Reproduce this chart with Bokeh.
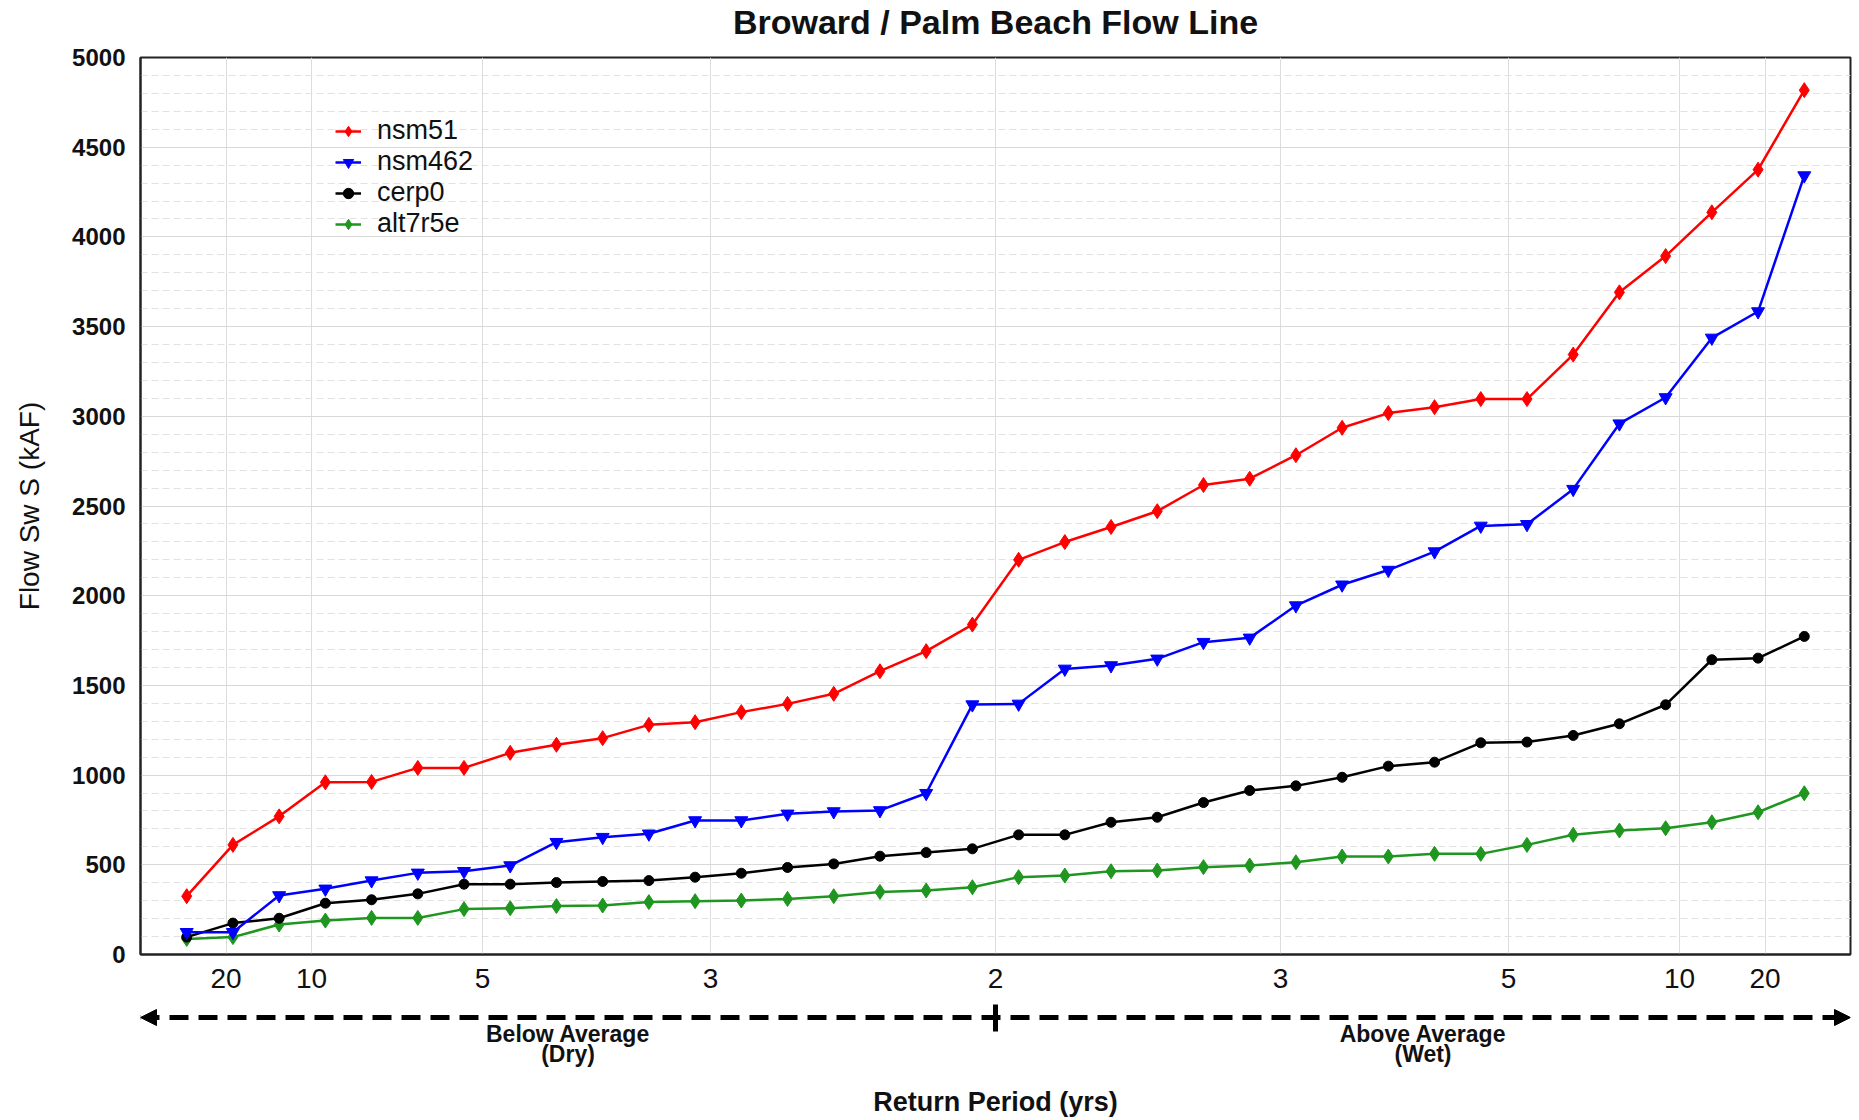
from bokeh.plotting import figure
from bokeh.layouts import column
from bokeh.models import (FixedTicker, SingleIntervalTicker, Arrow, NormalHead, Label,
                          Legend, LegendItem, CustomJSTickFormatter, Range1d)
from bokeh.embed import file_html
from bokeh.resources import INLINE

# ---------------- data ----------------
N_YEARS = 36
rank = list(range(1, N_YEARS + 1))

nsm51 = [325, 611, 770, 960, 962, 1040, 1040, 1124, 1169, 1206, 1280, 1295, 1351, 1397, 1453,
         1579, 1691, 1839, 2200, 2299, 2383, 2471, 2617, 2652, 2783, 2936, 3018, 3051, 3096,
         3096, 3344, 3691, 3893, 4137, 4375, 4818]
nsm462 = [124, 124, 329, 366, 412, 455, 464, 496, 626, 654, 673, 747, 747, 784, 797, 803, 899,
          1393, 1397, 1592, 1611, 1648, 1741, 1765, 1945, 2061, 2143, 2246, 2389, 2398, 2594,
          2959, 3105, 3437, 3584, 4342]
cerp0 = [97, 175, 202, 286, 305, 338, 392, 392, 401, 407, 412, 431, 453, 485, 505, 548, 568,
         589, 667, 667, 737, 765, 847, 914, 940, 988, 1050, 1072, 1180, 1184, 1221, 1286, 1392,
         1643, 1652, 1773]
alt7r5e = [87, 97, 167, 189, 204, 204, 253, 258, 270, 273, 292, 297, 301, 310, 325, 349, 357,
           375, 431, 440, 464, 468, 487, 496, 514, 546, 546, 561, 561, 611, 667, 691, 704, 737,
           793, 899]

dry_periods = [20, 10, 5, 3, 2]      # return periods, below average side
wet_periods = [3, 5, 10, 20]         # return periods, above average side

series_names = ["nsm51", "nsm462", "cerp0", "alt7r5e"]

# Weibull plotting position: rank i -> P = i/(n+1)
n1 = N_YEARS + 1
tick_pos = [n1 / T for T in dry_periods] + [n1 * (1 - 1 / T) for T in wet_periods]
tick_lab = [str(T) for T in dry_periods] + [str(T) for T in wet_periods]

FONT = "Liberation Sans"
TXT = "#111111"
W = 1859
PAGE_H = 1120
xr = Range1d(0, n1)

# ---------------- title strip ----------------
HT = 40
ph = figure(width=W, height=HT, x_range=xr, y_range=Range1d(0, HT),
            output_backend="svg", toolbar_location=None, x_axis_type=None, y_axis_type=None,
            min_border_left=140, min_border_right=9, min_border_top=0, min_border_bottom=0,
            outline_line_color=None, background_fill_color="white", border_fill_color="white")
ph.grid.visible = False
ph.add_layout(Label(x=n1 / 2, y=HT - 21, text="Broward / Palm Beach Flow Line",
                    text_align="center", text_baseline="middle", text_font=FONT,
                    text_font_size="34px", text_font_style="bold", text_color=TXT))

# ---------------- main plot ----------------
HM = 962
p = figure(width=W, height=HM, x_range=xr, y_range=(0, 5000),
           output_backend="svg", toolbar_location=None,
           min_border_left=140, min_border_right=9, min_border_top=17, min_border_bottom=48,
           background_fill_color="white", border_fill_color="white")

p.outline_line_color = "#222222"
p.outline_line_width = 2

# x axis
p.xaxis.ticker = FixedTicker(ticks=tick_pos, minor_ticks=[])
p.xaxis.formatter = CustomJSTickFormatter(args=dict(pos=tick_pos, labels=tick_lab), code="""
for (let i = 0; i < pos.length; i++) { if (Math.abs(tick - pos[i]) < 1e-6) return labels[i]; }
return '';
""")
p.xaxis.major_tick_out = 0
p.xaxis.major_tick_in = 0
p.xaxis.minor_tick_out = 0
p.xaxis.axis_line_color = "#222222"
p.xaxis.axis_line_width = 2
p.xaxis.major_label_text_font = FONT
p.xaxis.major_label_text_font_size = "28px"
p.xaxis.major_label_text_color = TXT
p.xaxis.major_label_standoff = 14

# y axis
p.yaxis.ticker = SingleIntervalTicker(interval=500, num_minor_ticks=5)
p.yaxis.major_tick_out = 0
p.yaxis.major_tick_in = 0
p.yaxis.minor_tick_out = 0
p.yaxis.minor_tick_in = 0
p.yaxis.axis_line_color = "#222222"
p.yaxis.axis_line_width = 2
p.yaxis.major_label_text_font = FONT
p.yaxis.major_label_text_font_size = "24px"
p.yaxis.major_label_text_font_style = "bold"
p.yaxis.major_label_text_color = TXT
p.yaxis.major_label_standoff = 15
p.yaxis.axis_label = "Flow Sw S (kAF)"
p.yaxis.axis_label_text_font = FONT
p.yaxis.axis_label_text_font_size = "28px"
p.yaxis.axis_label_text_font_style = "normal"
p.yaxis.axis_label_text_color = TXT
p.yaxis.axis_label_standoff = 24

# grids
p.xgrid.grid_line_color = "#dcdcdc"
p.xgrid.grid_line_width = 1
p.ygrid.grid_line_color = "#d8d8d8"
p.ygrid.grid_line_width = 1
p.ygrid.minor_grid_line_color = "#e2e2e2"
p.ygrid.minor_grid_line_dash = "7 4"
p.ygrid.minor_grid_line_width = 1

styles = {
    "nsm51": dict(color="#ff0000", marker="diamond", size=15),
    "nsm462": dict(color="#0000ff", marker="inverted_triangle", size=13),
    "cerp0": dict(color="#000000", marker="circle", size=10),
    "alt7r5e": dict(color="#1f961f", marker="diamond", size=15),
}
values = {"nsm51": nsm51, "nsm462": nsm462, "cerp0": cerp0, "alt7r5e": alt7r5e}

items = []
for name in reversed(series_names):
    st = styles[name]
    ln = p.line(rank, values[name], line_color=st["color"], line_width=2.5)
    sc = p.scatter(rank, values[name], marker=st["marker"], size=st["size"],
                   fill_color=st["color"], line_color=st["color"])
    items.append(LegendItem(label=name, renderers=[ln, sc]))
items = list(reversed(items))

legend = Legend(items=items, location=(195, 715), border_line_color=None,
                background_fill_alpha=0, padding=0, margin=0, spacing=0,
                glyph_height=30, glyph_width=26, label_standoff=16, label_height=30,
                label_text_font=FONT, label_text_font_size="27px", label_text_color=TXT)
p.add_layout(legend)

# ---------------- dry / wet strip ----------------
HB = PAGE_H - HT - HM
pb = figure(width=W, height=HB, x_range=xr, y_range=Range1d(0, HB),
            output_backend="svg", toolbar_location=None, x_axis_type=None, y_axis_type=None,
            min_border_left=140, min_border_right=9, min_border_top=0, min_border_bottom=0,
            outline_line_color=None, background_fill_color="white", border_fill_color="white")
pb.grid.visible = False


def sy(page_y):
    # page pixel row -> strip coordinate
    return PAGE_H - page_y


arrow_y = sy(1017)
pb.add_layout(Arrow(x_start=0, y_start=arrow_y, x_end=n1, y_end=arrow_y,
                    line_color="black", line_width=5, line_dash="19 10",
                    start=NormalHead(size=16, fill_color="black", line_color="black", line_width=1),
                    end=NormalHead(size=16, fill_color="black", line_color="black", line_width=1)))
mid = n1 / 2
pb.add_layout(Arrow(x_start=mid, y_start=sy(1004), x_end=mid, y_end=sy(1031),
                    line_color="black", line_width=5, start=None, end=None))

for xc, t1, t2 in [(mid / 2, "Below Average", "(Dry)"), (mid + mid / 2, "Above Average", "(Wet)")]:
    pb.add_layout(Label(x=xc, y=sy(1033), text=t1, text_align="center", text_baseline="middle",
                        text_font=FONT, text_font_size="23px", text_font_style="bold",
                        text_color=TXT))
    pb.add_layout(Label(x=xc, y=sy(1053), text=t2, text_align="center", text_baseline="middle",
                        text_font=FONT, text_font_size="23px", text_font_style="bold",
                        text_color=TXT))

pb.add_layout(Label(x=mid, y=sy(1101), text="Return Period (yrs)", text_align="center",
                    text_baseline="middle", text_font=FONT, text_font_size="27px",
                    text_font_style="bold", text_color=TXT))

layout = column(ph, p, pb, spacing=0)
open("out.html", "w").write(file_html(layout, INLINE))
